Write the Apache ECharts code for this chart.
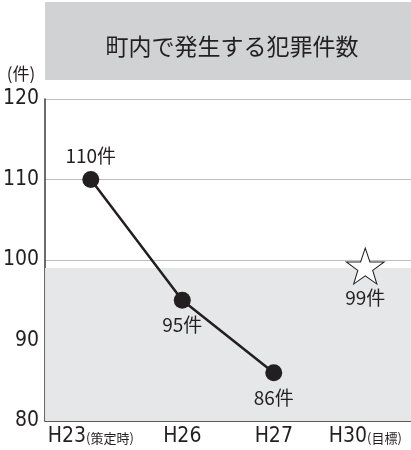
<!DOCTYPE html>
<html><head><meta charset="utf-8">
<script src="https://cdn.jsdelivr.net/npm/echarts@6/dist/echarts.min.js"></script>
<style>html,body{margin:0;padding:0;background:#fff}#c{width:411px;height:450px}</style>
</head><body><div id="c"></div>
<script>
const title = '町内で発生する犯罪件数';
const categories = ['H23', 'H26', 'H27', 'H30'];
const categoryNotes = ['(策定時)', '', '', '(目標)'];
const actualValues = [110, 95, 86, null];
const targetValues = [null, null, null, 99];
const yTicks = [80, 90, 100, 110, 120];
const unit = '件';

const TXT = '#231f20';
const NARROW = '"Liberation Sans Narrow","DejaVu Sans Condensed",sans-serif';
const CJK = '"Noto Sans CJK JP", sans-serif';
const chart = echarts.init(document.getElementById('c'));
const starPath = 'path://M50,0 L61.8,35.1 L98.1,35.1 L68.8,56.7 L79.4,91 L50,70 L20.6,91 L31.2,56.7 L1.9,35.1 L38.2,35.1 Z';
chart.setOption({
  animation: false,
  graphic: [
    {type: 'rect', left: 45, top: 2, shape: {width: 366, height: 78}, style: {fill: '#d1d2d4'}, silent: true},
    {type: 'text', x: 232, y: 46, style: {text: title, fill: TXT, font: '23px ' + CJK, textAlign: 'center', textVerticalAlign: 'middle'}},
    {type: 'text', x: 21, y: 74, style: {text: '(' + unit + ')', fill: TXT, font: '17px ' + CJK, textAlign: 'center', textVerticalAlign: 'middle'}}
  ],
  grid: {left: 44, right: 0, top: 99, bottom: 29},
  xAxis: {
    type: 'category', data: categories, boundaryGap: true,
    axisLine: {lineStyle: {color: '#3a3a3a', width: 1.5}},
    axisTick: {inside: true, length: 7, lineStyle: {color: '#3a3a3a', width: 1.5}},
    axisLabel: {
      margin: 5, interval: 0,
      formatter: (v, i) => '{a|' + v + '}' + (categoryNotes[i] ? '{b|' + categoryNotes[i] + '}' : ''),
      rich: {
        a: {fontSize: 21, color: TXT, fontFamily: NARROW},
        b: {fontSize: 13, color: TXT, fontFamily: CJK, padding: [3, 0, 0, 0]}
      }
    }
  },
  yAxis: {
    type: 'value', min: yTicks[0], max: yTicks[yTicks.length - 1], interval: 10,
    axisLine: {show: true, lineStyle: {color: '#3a3a3a', width: 1.5}},
    axisTick: {show: false},
    axisLabel: {color: TXT, fontSize: 21, fontFamily: NARROW, margin: 6},
    splitLine: {lineStyle: {color: '#bcbec0', width: 1}}
  },
  series: [
    {
      type: 'line', z: 5,
      data: actualValues.map((v, i) => i === 0 ? {value: v, label: {position: 'top', distance: 6}} : v),
      symbol: 'circle', symbolSize: 17,
      lineStyle: {color: TXT, width: 2.5},
      itemStyle: {color: TXT},
      label: {
        show: true, formatter: p => p.value + unit, fontSize: 19, color: TXT,
        fontFamily: CJK, position: 'bottom', distance: 7
      },
      markArea: {
        silent: true,
        itemStyle: {color: '#e6e7e8'},
        data: [[{yAxis: yTicks[0]}, {yAxis: targetValues[3]}]]
      }
    },
    {
      type: 'scatter', data: targetValues, z: 5,
      symbol: starPath, symbolSize: [38, 36], symbolKeepAspect: false, symbolOffset: [0, -2],
      itemStyle: {color: '#fff', borderColor: TXT, borderWidth: 1, opacity: 1},
      label: {show: true, position: 'bottom', distance: 4, formatter: p => p.value + unit, fontSize: 19, color: TXT, fontFamily: CJK}
    }
  ]
});
</script></body></html>
